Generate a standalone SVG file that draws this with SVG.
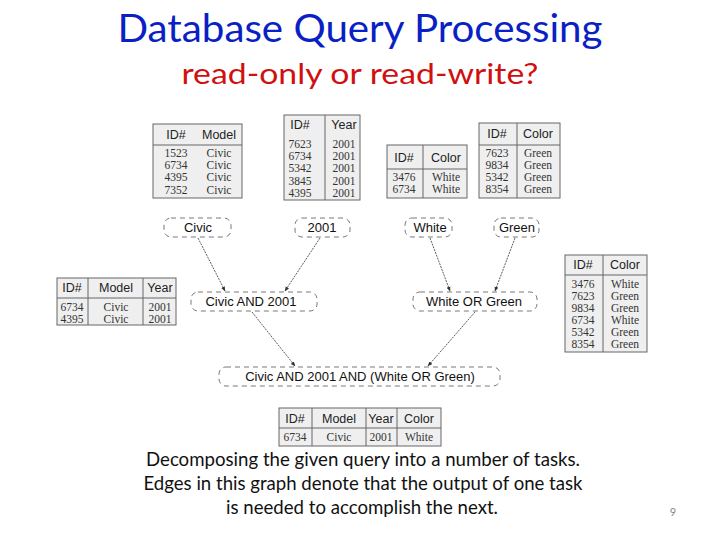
<svg xmlns="http://www.w3.org/2000/svg" width="720" height="540" viewBox="0 0 720 540">
<style>
.title{font-family:Lato,"Open Sans",sans-serif;font-size:38px;fill:#0a1fc4;text-anchor:middle}
.sub{font-family:Lato,"Open Sans",sans-serif;font-size:28px;fill:#d01010;text-anchor:middle}
.cap{font-family:Lato,"Open Sans",sans-serif;font-size:19px;fill:#111;text-anchor:middle}
.pg{font-family:Lato,sans-serif;font-size:11px;fill:#888;text-anchor:middle}
.tb{fill:#efefef;stroke:#666;stroke-width:1}
.ln{stroke:#666;stroke-width:1}
.th{font-family:"Liberation Sans",Arial,sans-serif;font-size:12.5px;fill:#222;text-anchor:middle}
.td{font-family:"Liberation Serif","Times New Roman",serif;font-size:11.5px;fill:#333;text-anchor:middle}
.nd{fill:#fff;stroke:#555;stroke-width:0.8;stroke-dasharray:5 4}
.nt{font-family:"Liberation Sans",Arial,sans-serif;font-size:13px;fill:#111;text-anchor:middle}
.ed{stroke:#333;stroke-width:0.8;fill:none;stroke-dasharray:2 1;marker-end:url(#ah)}
</style>
<defs>
<marker id="ah" viewBox="0 0 10 10" refX="9" refY="5" markerWidth="6" markerHeight="6" orient="auto-start-reverse">
<path d="M0,1 L10,5 L0,9 z" fill="#333"/>
</marker>
</defs>

<text class="title" x="360" y="42" textLength="485" lengthAdjust="spacingAndGlyphs">Database Query Processing</text>
<text class="sub" x="360" y="84" textLength="357" lengthAdjust="spacingAndGlyphs">read-only or read-write?</text>

<!-- Table 1 -->
<g id="t1">
<rect class="tb" x="153" y="124" width="89" height="74"/>
<line class="ln" x1="153" y1="145" x2="242" y2="145"/>
<text class="th" x="176" y="139">ID#</text><text class="th" x="219" y="139">Model</text>
<text class="td" x="176" y="157">1523</text><text class="td" x="219" y="157">Civic</text>
<text class="td" x="176" y="169">6734</text><text class="td" x="219" y="169">Civic</text>
<text class="td" x="176" y="181">4395</text><text class="td" x="219" y="181">Civic</text>
<text class="td" x="176" y="194">7352</text><text class="td" x="219" y="194">Civic</text>
</g>

<!-- Table 2 -->
<g id="t2">
<rect class="tb" x="284" y="115" width="76" height="85"/>
<line class="ln" x1="325" y1="115" x2="325" y2="200"/>
<text class="th" x="300" y="129">ID#</text><text class="th" x="344" y="129">Year</text>
<text class="td" x="300" y="148">7623</text><text class="td" x="344" y="148">2001</text>
<text class="td" x="300" y="160">6734</text><text class="td" x="344" y="160">2001</text>
<text class="td" x="300" y="172">5342</text><text class="td" x="344" y="172">2001</text>
<text class="td" x="300" y="185">3845</text><text class="td" x="344" y="185">2001</text>
<text class="td" x="300" y="197">4395</text><text class="td" x="344" y="197">2001</text>
</g>

<!-- Table 3 -->
<g id="t3">
<rect class="tb" x="387" y="145" width="80" height="53"/>
<line class="ln" x1="387" y1="169" x2="467" y2="169"/>
<line class="ln" x1="423" y1="145" x2="423" y2="198"/>
<text class="th" x="404" y="162">ID#</text><text class="th" x="446" y="162">Color</text>
<text class="td" x="404" y="181">3476</text><text class="td" x="446" y="181">White</text>
<text class="td" x="404" y="193">6734</text><text class="td" x="446" y="193">White</text>
</g>

<!-- Table 4 -->
<g id="t4">
<rect class="tb" x="479" y="123" width="81" height="75"/>
<line class="ln" x1="479" y1="145" x2="560" y2="145"/>
<line class="ln" x1="517" y1="123" x2="517" y2="198"/>
<text class="th" x="497" y="138">ID#</text><text class="th" x="538" y="138">Color</text>
<text class="td" x="497" y="157">7623</text><text class="td" x="538" y="157">Green</text>
<text class="td" x="497" y="169">9834</text><text class="td" x="538" y="169">Green</text>
<text class="td" x="497" y="181">5342</text><text class="td" x="538" y="181">Green</text>
<text class="td" x="497" y="193">8354</text><text class="td" x="538" y="193">Green</text>
</g>

<!-- Table 5 -->
<g id="t5">
<rect class="tb" x="57" y="278" width="119" height="47"/>
<line class="ln" x1="57" y1="298" x2="176" y2="298"/>
<line class="ln" x1="88" y1="278" x2="88" y2="325"/>
<line class="ln" x1="143" y1="278" x2="143" y2="325"/>
<text class="th" x="72" y="292">ID#</text><text class="th" x="116" y="292">Model</text><text class="th" x="160" y="292">Year</text>
<text class="td" x="72" y="311">6734</text><text class="td" x="116" y="311">Civic</text><text class="td" x="160" y="311">2001</text>
<text class="td" x="72" y="323">4395</text><text class="td" x="116" y="323">Civic</text><text class="td" x="160" y="323">2001</text>
</g>

<!-- Table 6 -->
<g id="t6">
<rect class="tb" x="565" y="255" width="82" height="97"/>
<line class="ln" x1="565" y1="275" x2="647" y2="275"/>
<line class="ln" x1="603" y1="255" x2="603" y2="352"/>
<text class="th" x="583" y="269">ID#</text><text class="th" x="625" y="269">Color</text>
<text class="td" x="583" y="288">3476</text><text class="td" x="625" y="288">White</text>
<text class="td" x="583" y="300">7623</text><text class="td" x="625" y="300">Green</text>
<text class="td" x="583" y="312">9834</text><text class="td" x="625" y="312">Green</text>
<text class="td" x="583" y="324">6734</text><text class="td" x="625" y="324">White</text>
<text class="td" x="583" y="336">5342</text><text class="td" x="625" y="336">Green</text>
<text class="td" x="583" y="348">8354</text><text class="td" x="625" y="348">Green</text>
</g>

<!-- Table 7 -->
<g id="t7">
<rect class="tb" x="279" y="408" width="162" height="38"/>
<line class="ln" x1="279" y1="428" x2="441" y2="428"/>
<line class="ln" x1="312" y1="408" x2="312" y2="446"/>
<line class="ln" x1="366" y1="408" x2="366" y2="446"/>
<line class="ln" x1="397" y1="408" x2="397" y2="446"/>
<text class="th" x="295" y="423">ID#</text><text class="th" x="339" y="423">Model</text><text class="th" x="381" y="423">Year</text><text class="th" x="419" y="423">Color</text>
<text class="td" x="295" y="441">6734</text><text class="td" x="339" y="441">Civic</text><text class="td" x="381" y="441">2001</text><text class="td" x="419" y="441">White</text>
</g>

<!-- Connectors -->
<g id="edges">
<line class="ed" x1="198" y1="238" x2="225" y2="291"/>
<line class="ed" x1="320" y1="238" x2="285" y2="291"/>
<line class="ed" x1="430" y1="238" x2="450" y2="291"/>
<line class="ed" x1="515" y1="238" x2="495" y2="291"/>
<line class="ed" x1="252" y1="312" x2="295" y2="366"/>
<line class="ed" x1="475" y1="312" x2="428" y2="366"/>
</g>

<!-- Nodes -->
<g id="n-civic"><rect class="nd" x="164" y="218" width="67" height="19" rx="7"/><text class="nt" x="198" y="232">Civic</text></g>
<g id="n-2001"><rect class="nd" x="295" y="218" width="55" height="19" rx="7"/><text class="nt" x="322" y="232">2001</text></g>
<g id="n-white"><rect class="nd" x="405" y="218" width="47" height="19" rx="7"/><text class="nt" x="430" y="232">White</text></g>
<g id="n-green"><rect class="nd" x="494" y="218" width="45" height="19" rx="7"/><text class="nt" x="517" y="232">Green</text></g>
<g id="n-and"><rect class="nd" x="191" y="292" width="126" height="19" rx="7"/><text class="nt" x="251" y="306">Civic AND 2001</text></g>
<g id="n-or"><rect class="nd" x="413" y="292" width="124" height="19" rx="7"/><text class="nt" x="474" y="306">White OR Green</text></g>
<g id="n-final"><rect class="nd" x="219" y="367" width="281" height="19" rx="7"/><text class="nt" x="360" y="381">Civic AND 2001 AND (White OR Green)</text></g>

<text class="cap" x="363" y="466" textLength="434" lengthAdjust="spacingAndGlyphs">Decomposing the given query into a number of tasks.</text>
<text class="cap" x="363" y="490" textLength="439" lengthAdjust="spacingAndGlyphs">Edges in this graph denote that the output of one task</text>
<text class="cap" x="362" y="514" textLength="272" lengthAdjust="spacingAndGlyphs">is needed to accomplish the next.</text>
<text class="pg" x="673" y="516">9</text>
</svg>
